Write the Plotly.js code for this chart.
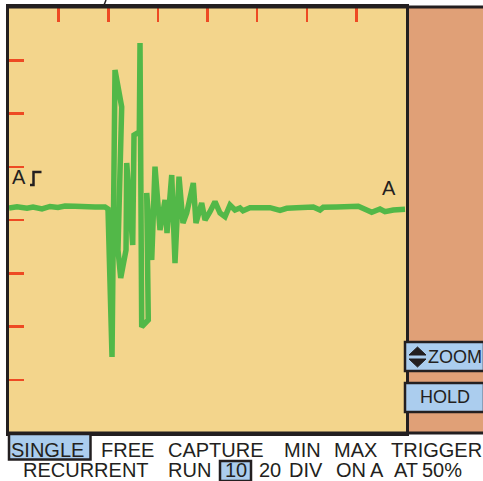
<!DOCTYPE html>
<html>
<head>
<meta charset="utf-8">
<script src="https://cdn.plot.ly/plotly-3.0.1.min.js"></script>
<style>html,body{margin:0;padding:0;background:#fff;}#chart{width:483px;height:481px;}</style>
</head>
<body>
<div id="chart"></div>
<script>
// Time in divisions (0..8), amplitude in divisions (-4..4)
var timeDiv = [0,0.161,0.363,0.484,0.665,0.826,0.987,1.128,1.330,1.531,1.733,1.935,1.995,
  2.076,2.136,2.271,2.196,2.251,2.358,2.372,2.493,2.519,2.626,2.640,2.674,2.807,2.775,2.876,
  2.942,3.043,3.144,3.184,3.279,3.345,3.426,3.506,3.581,3.714,3.768,3.883,3.950,4.050,4.151,
  4.252,4.353,4.453,4.554,4.655,4.715,4.856,5.058,5.259,5.461,5.596,5.797,6.132,6.267,6.333,
  6.604,7.039,7.208,7.309,7.476,7.577,7.744,7.980];
var ampDiv = [0.225,0.250,0.220,0.244,0.207,0.254,0.235,0.263,0.257,0.244,0.244,0.244,0.207,
  -2.573,2.817,2.122,-0.563,-1.089,-0.563,1.070,-0.469,1.596,1.653,3.324,-2.009,-1.878,0.507,-0.751,
  1.001,-0.188,0.376,-0.244,0.845,-0.808,0.813,-0.056,0.131,0.695,-0.056,0.319,0,0.156,0.344,
  0.131,0.062,0.282,0.188,0.225,0.175,0.231,0.220,0.231,0.182,0.220,0.231,0.244,0.188,0.238,
  0.244,0.257,0.188,0.145,0.207,0.156,0.188,0.201];
var xTicks = [1,2,3,4,5,6,7];
var yTicks = [-3,-2,-1,0,1,2,3];
var menuLine1 = ["SINGLE","FREE","CAPTURE","MIN","MAX","TRIGGER"];
var menuLine2 = ["RECURRENT","RUN","10","20","DIV","ON","A","AT","50%"];
var sideButtons = ["ZOOM","HOLD"];
var traceLabel = "A";

// layout helpers (pixel -> paper)
var L=9, T=7, W=397, H=426;
function X(px){return (px-L)/W;}
function Y(py){return (T+H-py)/H;}
var dark='#231F20', blue='#ABCDEE', font='Liberation Sans, Arial, sans-serif';

var line1X=[10,100,167,283,333,390];
var line2X=[21.5,167,224,258,288,335,369,393,421];

var ann=[];
menuLine1.forEach(function(w,i){ann.push({text:w,x:X(line1X[i]),y:Y(450),xref:'paper',yref:'paper',xanchor:'left',yanchor:'middle',showarrow:false,borderpad:0,font:{family:font,size:20,color:dark}});});
menuLine2.forEach(function(w,i){ann.push({text:w,x:X(line2X[i]),y:Y(470),xref:'paper',yref:'paper',xanchor:'left',yanchor:'middle',showarrow:false,borderpad:0,font:{family:font,size:20,color:dark}});});
ann.push({text:sideButtons[0],x:X(454.5),y:Y(357),xref:'paper',yref:'paper',xanchor:'center',yanchor:'middle',showarrow:false,font:{family:font,size:18,color:dark}});
ann.push({text:sideButtons[1],x:X(445),y:Y(397),xref:'paper',yref:'paper',xanchor:'center',yanchor:'middle',showarrow:false,font:{family:font,size:18,color:dark}});
ann.push({text:traceLabel,x:X(18.5),y:Y(177),xref:'paper',yref:'paper',xanchor:'center',yanchor:'middle',showarrow:false,font:{family:font,size:20,color:dark}});
ann.push({text:traceLabel,x:X(388.5),y:Y(188),xref:'paper',yref:'paper',xanchor:'center',yanchor:'middle',showarrow:false,font:{family:font,size:20,color:dark}});

function rect(x0,y0,x1,y1,fill,lw,layer){return {type:'rect',xref:'paper',yref:'paper',x0:X(x0),x1:X(x1),y0:Y(y1),y1:Y(y0),fillcolor:fill,line:{color:dark,width:lw},layer:layer||'above'};}
function path(pts,closed,fill,lw){var s='';pts.forEach(function(p,i){s+=(i?' L ':'M ')+X(p[0])+' '+Y(p[1]);});if(closed)s+=' Z';return {type:'path',xref:'paper',yref:'paper',path:s,fillcolor:fill||'rgba(0,0,0,0)',line:{color:dark,width:lw},layer:'above'};}

var shapes=[
  {type:'rect',xref:'paper',yref:'paper',x0:1,x1:X(484),y0:0,y1:1,fillcolor:'#E0A077',line:{width:0},layer:'below'},
  path([[9,7],[484,7]],false,null,3),
  path([[9,433],[484,433]],false,null,3),
  rect(405,342,484,371,blue,2.5),
  rect(405,383,484,412,blue,2.5),
  path([[409,355],[426,355],[417.5,347]],true,dark,1),
  path([[409,359],[426,359],[417.5,367]],true,dark,1),
  rect(9,434,90.5,459.5,blue,2.5),
  rect(220,461,251,481,blue,2.5),
  path([[30,185],[33.5,185],[33.5,172],[41.5,172]],false,null,2.5),
  path([[103.5,6.5],[106,0]],false,null,1.5)
];

var data=[{x:timeDiv,y:ampDiv,type:'scatter',mode:'lines',line:{color:'#52B848',width:5.5},hoverinfo:'none'}];

var layout={
  width:483,height:481,
  margin:{l:L,r:483-L-W,t:T,b:481-T-H,pad:0},
  paper_bgcolor:'#ffffff',plot_bgcolor:'#F3D58C',
  showlegend:false,
  xaxis:{range:[0,8],side:'top',showgrid:false,zeroline:false,showticklabels:false,
    ticks:'inside',tickvals:xTicks,ticklen:15,tickwidth:2.5,tickcolor:'#EE4A23',
    showline:true,mirror:true,linecolor:dark,linewidth:3,fixedrange:true},
  yaxis:{range:[-4,4],side:'left',showgrid:false,zeroline:false,showticklabels:false,
    ticks:'inside',tickvals:yTicks,ticklen:15,tickwidth:2.5,tickcolor:'#EE4A23',
    showline:true,mirror:true,linecolor:dark,linewidth:3,fixedrange:true},
  shapes:shapes,annotations:ann
};
Plotly.newPlot('chart',data,layout,{staticPlot:true,displayModeBar:false});
</script>
</body>
</html>
